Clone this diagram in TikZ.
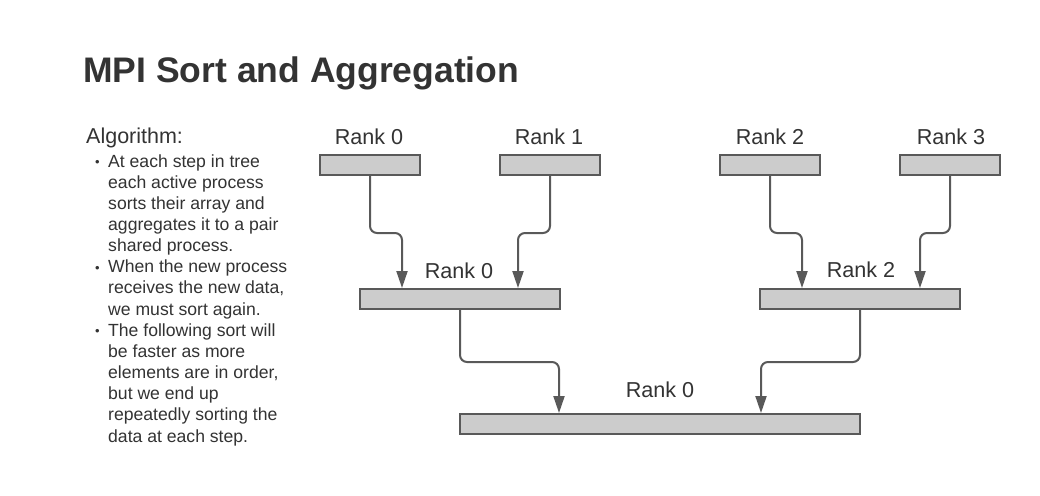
\documentclass[tikz,border=0pt]{standalone}
\usepackage{fontspec}
\setmainfont{Liberation Sans}
\usetikzlibrary{arrows.meta}
\definecolor{lc}{HTML}{595959}
\definecolor{bf}{HTML}{CCCCCC}
\definecolor{tc}{HTML}{333333}
\newcommand{\bul}{\makebox[13pt][l]{\raisebox{0.5pt}{\fontsize{13}{13}\selectfont•}}}
\newcommand{\ind}{\hspace*{13pt}}
\begin{document}
\begin{tikzpicture}[x=1pt,y=-1pt,
  rankbox/.style={draw=lc, line width=2pt, fill=bf, minimum height=20pt, inner sep=0pt},
  conn/.style={draw=lc, line width=2pt, rounded corners=7pt, -{Triangle[length=17pt,width=11pt]}},
  lbl/.style={font=\fontsize{21.6}{25}\selectfont, text=tc, inner sep=0pt, anchor=base},
  body/.style={font=\fontsize{17.6}{21.15}\selectfont, text=tc, inner sep=0pt, align=left, anchor=base west}]
\useasboundingbox[fill=white] (0,0) rectangle (1040,495);

% title
\node[font=\fontsize{35.5}{40}\selectfont\bfseries, text=tc, inner sep=0pt, anchor=base west] (title) at (83,82) {MPI Sort and Aggregation};

% algorithm text
\node[font=\fontsize{21.5}{25}\selectfont, text=tc, inner sep=0pt, anchor=base west] (alg) at (86,143) {Algorithm:};
\node[body] (list) at (95,442) {\bul At each step in tree\\
\ind each active process\\
\ind sorts their array and\\
\ind aggregates it to a pair\\
\ind shared process.\\
\bul When the new process\\
\ind receives the new data,\\
\ind we must sort again.\\
\bul The following sort will\\
\ind be faster as more\\
\ind elements are in order,\\
\ind but we end up\\
\ind repeatedly sorting the\\
\ind data at each step.};

% boxes
\node[rankbox, minimum width=100pt] (t0) at (370,165) {};
\node[rankbox, minimum width=100pt] (t1) at (550,165) {};
\node[rankbox, minimum width=100pt] (t2) at (770,165) {};
\node[rankbox, minimum width=100pt] (t3) at (950,165) {};
\node[rankbox, minimum width=200pt] (m0) at (460,299) {};
\node[rankbox, minimum width=200pt] (m2) at (860,299) {};
\node[rankbox, minimum width=400pt] (b0) at (660,424) {};

% labels
\node[lbl] (lt0) at (369,144) {Rank 0};
\node[lbl] (lt1) at (549,144) {Rank 1};
\node[lbl] (lt2) at (770,144) {Rank 2};
\node[lbl] (lt3) at (951,144) {Rank 3};
\node[lbl] (lm0) at (459,278) {Rank 0};
\node[lbl] (lm2) at (861,277) {Rank 2};
\node[lbl] (lb0) at (660,397) {Rank 0};

% connectors
\draw[conn] (t0.south) -- ([yshift=-57pt]t0.south) -| ([xshift=-58pt]m0.north);
\draw[conn] (t1.south) -- ([yshift=-57pt]t1.south) -| ([xshift=58pt]m0.north);
\draw[conn] (t2.south) -- ([yshift=-57pt]t2.south) -| ([xshift=-58pt]m2.north);
\draw[conn] (t3.south) -- ([yshift=-57pt]t3.south) -| ([xshift=60pt]m2.north);
\draw[conn] (m0.south) -- ([yshift=-52pt]m0.south) -| ([xshift=-101pt]b0.north);
\draw[conn] (m2.south) -- ([yshift=-52pt]m2.south) -| ([xshift=101pt]b0.north);
\end{tikzpicture}
\end{document}
